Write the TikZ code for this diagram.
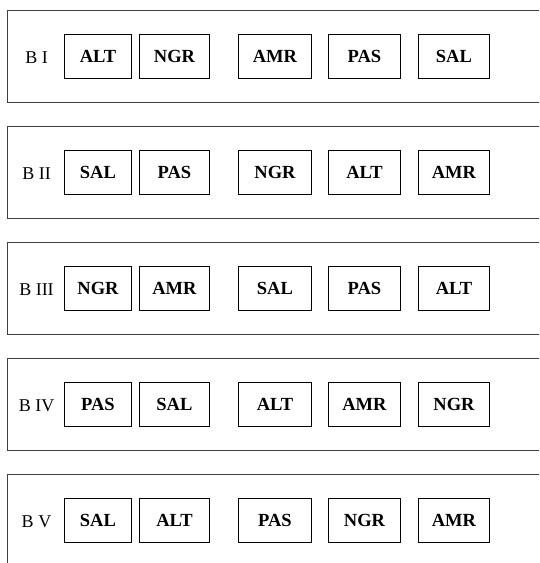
\documentclass[tikz,border=0pt]{standalone}
\usepackage{fontspec}
\setmainfont{Liberation Serif}
\begin{document}
\begin{tikzpicture}[x=1pt,y=-1pt,
  blockbox/.style={draw=black!75,line width=1pt},
  plotbox/.style={draw=black,line width=0.9pt,font=\fontsize{18.5}{20}\selectfont\bfseries,inner sep=0pt},
  blocklabel/.style={font=\fontsize{18}{20}\selectfont,inner sep=0pt,anchor=base}]
\useasboundingbox (0,0) rectangle (539,563);
\clip (0,0) rectangle (539,563);
\foreach \k/\lab/\a/\b/\c/\d/\e in {0/B I/ALT/NGR/AMR/PAS/SAL,1/B II/SAL/PAS/NGR/ALT/AMR,2/B III/NGR/AMR/SAL/PAS/ALT,3/B IV/PAS/SAL/ALT/AMR/NGR,4/B V/SAL/ALT/PAS/NGR/AMR}{
  \pgfmathsetmacro{\t}{10+116*\k}
  \draw[blockbox] (7,\t) rectangle (560,\t+92);
  \node[blocklabel] (lab\k) at (36.5,\t+53) {\lab};
  \foreach \x/\w/\txt/\i in {64/67/\a/1,139/70/\b/2,238/73/\c/3,328/72/\d/4,418/71/\e/5}{
    \node[plotbox,minimum width=\w pt,minimum height=44pt,anchor=north west] (p\k\i) at (\x,\t+24) {\txt};
  }
}
\end{tikzpicture}
\end{document}
